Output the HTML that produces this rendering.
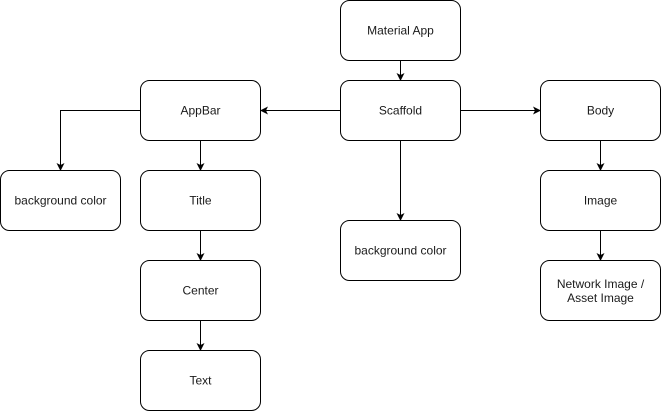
<!DOCTYPE html>
<html><head><meta charset="utf-8"><style>
html,body{margin:0;padding:0;background:#fff;}
svg{display:block;}
text{font-family:"Liberation Sans",Arial,sans-serif;font-size:12px;fill:#1a1a1a;text-anchor:middle;}
</style></head><body>
<svg width="661" height="411" viewBox="0 0 661 411" xmlns="http://www.w3.org/2000/svg">
<defs><marker id="a" markerWidth="8" markerHeight="8" refX="7" refY="4" orient="auto" markerUnits="userSpaceOnUse"><path d="M0,0 L8,4 L0,8 L2,4 Z" fill="#000"/></marker></defs>
<g fill="#fff" stroke="#000" stroke-width="1">
<rect x="340.5" y="0.5" width="120" height="60" rx="9"/>
<rect x="340.5" y="80.5" width="120" height="60" rx="9"/>
<rect x="140.5" y="80.5" width="120" height="60" rx="9"/>
<rect x="540.5" y="80.5" width="120" height="60" rx="9"/>
<rect x="0.5" y="170.5" width="120" height="60" rx="9"/>
<rect x="140.5" y="170.5" width="120" height="60" rx="9"/>
<rect x="140.5" y="260.5" width="120" height="60" rx="9"/>
<rect x="140.5" y="350.5" width="120" height="60" rx="9"/>
<rect x="340.5" y="220.5" width="120" height="60" rx="9"/>
<rect x="540.5" y="170.5" width="120" height="60" rx="9"/>
<rect x="540.5" y="260.5" width="120" height="60" rx="9"/>
</g>
<g stroke="#000" stroke-width="1" fill="none" marker-end="url(#a)">
<path d="M400.5 60.5 V80"/>
<path d="M340.5 110.5 H261"/>
<path d="M460.5 110.5 H540"/>
<path d="M140.5 110.5 H60.5 V170"/>
<path d="M200.5 140.5 V170"/>
<path d="M200.5 230.5 V260"/>
<path d="M200.5 320.5 V350"/>
<path d="M400.5 140.5 V220"/>
<path d="M600.5 140.5 V170"/>
<path d="M600.5 230.5 V260"/>
</g>
<text x="400.5" y="34.5">Material App</text>
<text x="400.5" y="114.5">Scaffold</text>
<text x="200.5" y="114.5">AppBar</text>
<text x="600.5" y="114.5">Body</text>
<text x="60.5" y="204.5">background color</text>
<text x="200.5" y="204.5">Title</text>
<text x="200.5" y="294.5">Center</text>
<text x="200.5" y="384.5">Text</text>
<text x="400.5" y="254.5">background color</text>
<text x="600.5" y="204.5">Image</text>
<text x="600.5" y="288">Network Image /</text>
<text x="600.5" y="302">Asset Image</text>
</svg>
</body></html>
